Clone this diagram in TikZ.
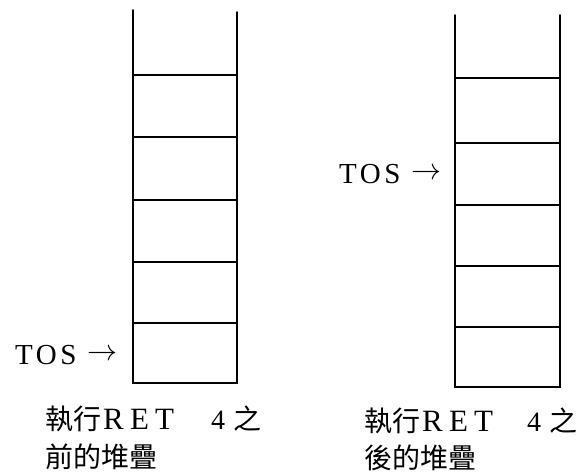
\documentclass[tikz,border=0pt]{standalone}
\usepackage{fontspec}
\setmainfont{Liberation Serif}
\newfontfamily\cjk{Noto Sans CJK TC}
\newfontfamily\spaced[LetterSpace=12]{Liberation Serif}
\newfontfamily\wide[LetterSpace=20]{Liberation Serif}
\newcommand{\tosarrow}{\hspace{11pt}\raisebox{4pt}{\resizebox{30pt}{!}{$\rightarrow$}}}
\begin{document}
\begin{tikzpicture}[x=1pt,y=-1pt,
  wall/.style={line width=1.7pt,line cap=round},
  rung/.style={line width=1.5pt},
  lbl/.style={inner sep=0pt,anchor=base west,font=\fontsize{29}{30}\selectfont},
  captext/.style={inner sep=0pt,anchor=base west,font=\fontsize{28}{30}\selectfont}]
\useasboundingbox (0,0) rectangle (586,476);
% left stack
\coordinate (LTL) at (133,10); \coordinate (LTR) at (237,12);
\coordinate (LBL) at (133,383); \coordinate (LBR) at (237,383);
\draw[wall] (LTL) -- (LBL) -- (LBR) -- (LTR);
\foreach \y in {75,137,200,262,323}{\draw[rung] (133,\y) -- (237,\y);}
% right stack
\coordinate (RTL) at (455,15); \coordinate (RTR) at (560,15);
\coordinate (RBL) at (455,387); \coordinate (RBR) at (560,387);
\draw[wall] (RTL) -- (RBL) -- (RBR) -- (RTR);
\foreach \y in {78,143,205,266,327}{\draw[rung] (455,\y) -- (560,\y);}
% TOS labels
\node[lbl] (tosl) at (15,364) {{\spaced TOS}\tosarrow};
\node[lbl] (tosr) at (339,183) {{\spaced TOS}\tosarrow};
% captions
\node[captext] (cl1) at (45,429) {{\cjk 執行}\hspace{2pt}{\wide\fontsize{31}{32}\selectfont RET}};
\node[captext] (cl4) at (211,429) {4};
\node[captext] (clz) at (233,429) {\cjk 之};
\node[captext] (cl2) at (45,467) {\cjk 前的堆疊};
\node[captext] (cr1) at (364,431) {{\cjk 執行}\hspace{2pt}{\wide\fontsize{31}{32}\selectfont RET}};
\node[captext] (cr4) at (527,431) {4};
\node[captext] (crz) at (549,431) {\cjk 之};
\node[captext] (cr2) at (364,468) {\cjk 後的堆疊};
\end{tikzpicture}
\end{document}
